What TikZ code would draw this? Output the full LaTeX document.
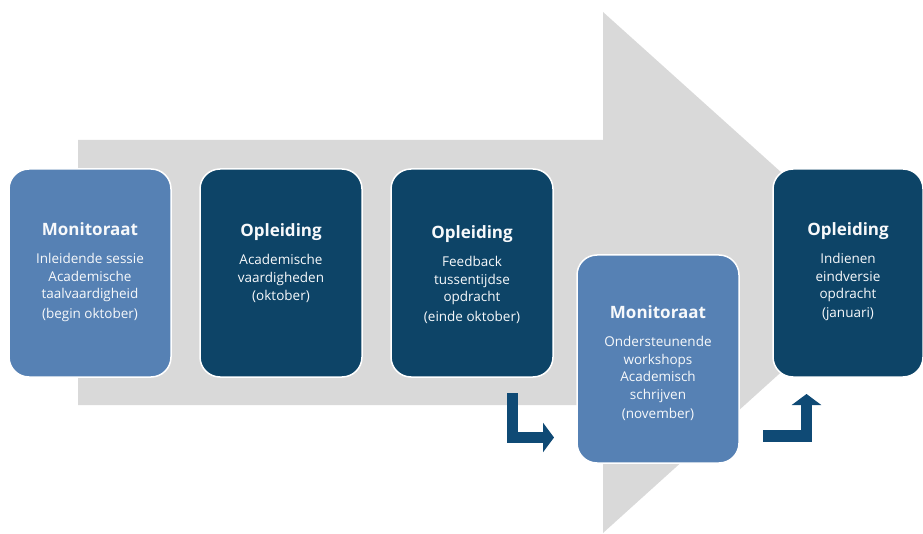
\documentclass[tikz,border=0pt]{standalone}
\usepackage{fontspec}
\setmainfont{Open Sans}
\usetikzlibrary{positioning,arrows.meta}
\definecolor{grijs}{HTML}{D9D9D9}
\definecolor{lichtblauw}{HTML}{5681B4}
\definecolor{donkerblauw}{HTML}{0D4467}
\definecolor{pijlblauw}{HTML}{0F4A75}
\tikzset{
  blok/.style={rounded corners=20pt, draw=white, line width=1.5pt,
    minimum width=162pt, minimum height=208pt},
  monitor/.style={blok, fill=lichtblauw},
  opleiding/.style={blok, fill=donkerblauw},
  tekst/.style={align=center, text=white!95!lichtblauw, inner sep=0pt,
    font=\fontsize{13.5}{17.5}\selectfont},
  knik/.style={draw=pijlblauw, line width=11.5pt, line join=miter,
    -{Triangle[length=11pt,width=29pt]}}
}
\newcommand{\kop}[1]{{\fontsize{17}{19}\selectfont\bfseries #1}\\[11pt]}
\begin{document}
\begin{tikzpicture}[x=1pt,y=-1pt, line cap=butt]
\useasboundingbox (0,0) rectangle (923,534);
% grote pijl op de achtergrond
\fill[grijs] (78,140) -- (603,140) -- (603,12) -- (892,272) -- (603,533)
  -- (603,405) -- (78,405) -- cycle;
% blokken
\node[monitor] (sessie) at (90,273) {};
\node[opleiding] (vaardig) at (281,273) {};
\node[opleiding] (feedback) at (472,273) {};
\node[monitor] (workshops) at (658,359) {};
\node[opleiding, minimum width=150pt] (eindversie) at (848,273) {};
% teksten
\node[tekst, below=54pt of sessie.north] (sessie-t) {\kop{Monitoraat}Inleidende sessie\\Academische\\taalvaardigheid\\[2pt](begin oktober)};
\node[tekst, below=55pt of vaardig.north] (vaardig-t) {\kop{Opleiding}Academische\\vaardigheden\\[1pt](oktober)};
\node[tekst, below=57pt of feedback.north] (feedback-t) {\kop{Opleiding}Feedback\\tussentijdse\\opdracht\\[2pt](einde oktober)};
\node[tekst, below=51pt of workshops.north] (workshops-t) {\kop{Monitoraat}Ondersteunende\\workshops\\Academisch\\schrijven\\[2pt](november)};
\node[tekst, below=54pt of eindversie.north] (eindversie-t) {\kop{Opleiding}Indienen\\eindversie\\opdracht\\[1pt](januari)};
% geknikte pijlen
\coordinate (k1a) at (512.5,393);
\coordinate (k1b) at (512.5,437.5);
\coordinate (k1c) at (554,437.5);
\draw[knik] (k1a) -- (k1b) -- (k1c);
\coordinate (k2a) at (763,436);
\coordinate (k2b) at (806.5,436);
\coordinate (k2c) at (806.5,394);
\draw[knik] (k2a) -- (k2b) -- (k2c);
\end{tikzpicture}
\end{document}
